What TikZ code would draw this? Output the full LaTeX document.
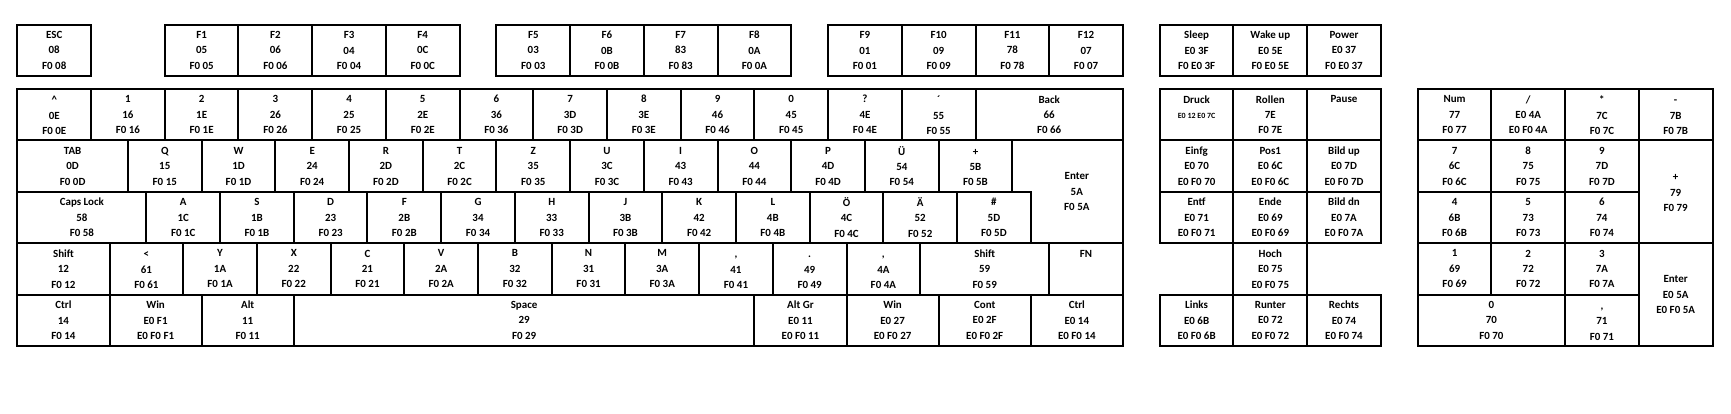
\documentclass[tikz,border=0pt]{standalone}
\usepackage{fontspec}
\setmainfont{Carlito}
\usepackage{tikz}
\tikzset{key/.style={draw,line width=1pt,minimum width=1.3cm,minimum height=0.90665cm,inner sep=0pt,align=center,font=\bfseries\fontsize{5.5}{7.75}\selectfont}}
\tikzset{keytext/.style={inner sep=0pt,align=center,font=\bfseries\fontsize{5.5}{7.75}\selectfont}}
\newcommand{\tall}{\vphantom{Äg}}

\begin{document}
\begin{tikzpicture}[x=1.3cm,y=-0.90665cm]
      \useasboundingbox (-0.236,-1.7315) rectangle (23.251,6.323);
      % function keys
      \node [key] (esc) at (0.5,-0.75) {ESC\\08\\F0 08};
      \node [key] (f1) at (2.5,-0.75) {F1\\05\\F0 05};
      \node [key] (f2) at (3.5,-0.75) {F2\\06\\F0 06};
      \node [key] (f3) at (4.5,-0.75) {F3\\04\\F0 04};
      \node [key] (f4) at (5.5,-0.75) {F4\\0C\\F0 0C};
      \node [key] (f5) at (7,-0.75) {F5\\03\\F0 03};
      \node [key] (f6) at (8,-0.75) {F6\\0B\\F0 0B};
      \node [key] (f7) at (9,-0.75) {F7\\83\\F0 83};
      \node [key] (f8) at (10,-0.75) {F8\\0A\\F0 0A};
      \node [key] (f9) at (11.5,-0.75) {F9\\01\\F0 01};
      \node [key] (f10) at (12.5,-0.75) {F10\\09\\F0 09};
      \node [key] (f11) at (13.5,-0.75) {F11\\78\\F0 78};
      \node [key] (f12) at (14.5,-0.75) {F12\\07\\F0 07};
      \node [key] (sleep) at (16,-0.75) {Sleep\\E0 3F\\F0 E0 3F};
      \node [key] (wake) at (17,-0.75) {Wake up\\E0 5E\\F0 E0 5E};
      \node [key] (power) at (18,-0.75) {Power\\E0 37\\F0 E0 37};
      % number row
      \node [key] (kcirc) at (0.5,0.5) {\tall\textasciicircum\\0E\\F0 0E};
      \node [key] (k1) at (1.5,0.5) {1\\16\\F0 16};
      \node [key] (k2) at (2.5,0.5) {2\\1E\\F0 1E};
      \node [key] (k3) at (3.5,0.5) {3\\26\\F0 26};
      \node [key] (k4) at (4.5,0.5) {4\\25\\F0 25};
      \node [key] (k5) at (5.5,0.5) {5\\2E\\F0 2E};
      \node [key] (k6) at (6.5,0.5) {6\\36\\F0 36};
      \node [key] (k7) at (7.5,0.5) {7\\3D\\F0 3D};
      \node [key] (k8) at (8.5,0.5) {8\\3E\\F0 3E};
      \node [key] (k9) at (9.5,0.5) {9\\46\\F0 46};
      \node [key] (k0) at (10.5,0.5) {0\\45\\F0 45};
      \node [key] (kquest) at (11.5,0.5) {?\\4E\\F0 4E};
      \node [key] (kacute) at (12.5,0.5) {\tall´\\55\\F0 55};
      \node [key,minimum width=2.6cm] (back) at (14,0.5) {Back\\66\\F0 66};
      \node [key] (druck) at (16,0.5) {Druck\\{\fontsize{4}{5}\selectfont E0 12 E0 7C}\\~};
      \node [key] (rollen) at (17,0.5) {Rollen\\7E\\F0 7E};
      \node [key] (pause) at (18,0.5) {Pause\\~\\~};
      \node [key] (num) at (19.5,0.5) {Num\\77\\F0 77};
      \node [key] (nslash) at (20.5,0.5) {/\\E0 4A\\E0 F0 4A};
      \node [key] (nstar) at (21.5,0.5) {\tall*\\7C\\F0 7C};
      \node [key] (nminus) at (22.5,0.5) {\tall-\\7B\\F0 7B};
      % upper letter row
      \node [key,minimum width=1.95cm] (tab) at (0.75,1.5) {TAB\\0D\\F0 0D};
      \node [key] (kq) at (2,1.5) {Q\\15\\F0 15};
      \node [key] (kw) at (3,1.5) {W\\1D\\F0 1D};
      \node [key] (ke) at (4,1.5) {E\\24\\F0 24};
      \node [key] (kr) at (5,1.5) {R\\2D\\F0 2D};
      \node [key] (kt) at (6,1.5) {T\\2C\\F0 2C};
      \node [key] (kz) at (7,1.5) {Z\\35\\F0 35};
      \node [key] (ku) at (8,1.5) {U\\3C\\F0 3C};
      \node [key] (ki) at (9,1.5) {I\\43\\F0 43};
      \node [key] (ko) at (10,1.5) {O\\44\\F0 44};
      \node [key] (kp) at (11,1.5) {P\\4D\\F0 4D};
      \node [key] (kue) at (12,1.5) {Ü\\54\\F0 54};
      \node [key] (kplus) at (13,1.5) {\tall+\\5B\\F0 5B};
      \draw [line width=1pt] (13.5,1) -- (15,1) -- (15,3) -- (13.75,3) -- (13.75,2) -- (13.5,2) -- cycle;
      \node [keytext] (enter) at (14.375,2) {Enter\\5A\\F0 5A};
      \node [key] (einfg) at (16,1.5) {Einfg\\E0 70\\E0 F0 70};
      \node [key] (pos1) at (17,1.5) {Pos1\\E0 6C\\E0 F0 6C};
      \node [key] (bildup) at (18,1.5) {Bild up\\E0 7D\\E0 F0 7D};
      \node [key] (n7) at (19.5,1.5) {7\\6C\\F0 6C};
      \node [key] (n8) at (20.5,1.5) {8\\75\\F0 75};
      \node [key] (n9) at (21.5,1.5) {9\\7D\\F0 7D};
      \node [key,minimum height=1.8133cm] (nplus) at (22.5,2) {\tall+\\79\\F0 79};
      % middle letter row
      \node [key,minimum width=2.275cm] (caps) at (0.875,2.5) {Caps Lock\\58\\F0 58};
      \node [key] (ka) at (2.25,2.5) {A\\1C\\F0 1C};
      \node [key] (ks) at (3.25,2.5) {S\\1B\\F0 1B};
      \node [key] (kd) at (4.25,2.5) {D\\23\\F0 23};
      \node [key] (kf) at (5.25,2.5) {F\\2B\\F0 2B};
      \node [key] (kg) at (6.25,2.5) {G\\34\\F0 34};
      \node [key] (kh) at (7.25,2.5) {H\\33\\F0 33};
      \node [key] (kj) at (8.25,2.5) {J\\3B\\F0 3B};
      \node [key] (kk) at (9.25,2.5) {K\\42\\F0 42};
      \node [key] (kl) at (10.25,2.5) {L\\4B\\F0 4B};
      \node [key] (koe) at (11.25,2.5) {Ö\\4C\\F0 4C};
      \node [key] (kae) at (12.25,2.5) {Ä\\52\\F0 52};
      \node [key] (khash) at (13.25,2.5) {\#\\5D\\F0 5D};
      \node [key] (entf) at (16,2.5) {Entf\\E0 71\\E0 F0 71};
      \node [key] (ende) at (17,2.5) {Ende\\E0 69\\E0 F0 69};
      \node [key] (bilddn) at (18,2.5) {Bild dn\\E0 7A\\E0 F0 7A};
      \node [key] (n4) at (19.5,2.5) {4\\6B\\F0 6B};
      \node [key] (n5) at (20.5,2.5) {5\\73\\F0 73};
      \node [key] (n6) at (21.5,2.5) {6\\74\\F0 74};
      % lower letter row
      \node [key,minimum width=1.625cm] (lshift) at (0.625,3.5) {Shift\\12\\F0 12};
      \node [key] (kless) at (1.75,3.5) {\tall<\\61\\F0 61};
      \node [key] (ky) at (2.75,3.5) {Y\\1A\\F0 1A};
      \node [key] (kx) at (3.75,3.5) {X\\22\\F0 22};
      \node [key] (kc) at (4.75,3.5) {C\\21\\F0 21};
      \node [key] (kv) at (5.75,3.5) {V\\2A\\F0 2A};
      \node [key] (kb) at (6.75,3.5) {B\\32\\F0 32};
      \node [key] (kn) at (7.75,3.5) {N\\31\\F0 31};
      \node [key] (km) at (8.75,3.5) {M\\3A\\F0 3A};
      \node [key] (kcomma) at (9.75,3.5) {\tall,\\41\\F0 41};
      \node [key] (kdot) at (10.75,3.5) {\tall.\\49\\F0 49};
      \node [key] (kdash) at (11.75,3.5) {\tall,\\4A\\F0 4A};
      \node [key,minimum width=2.275cm] (rshift) at (13.125,3.5) {Shift\\59\\F0 59};
      \node [key] (fn) at (14.5,3.5) {FN\\~\\~};
      \node [key] (hoch) at (17,3.5) {Hoch\\E0 75\\E0 F0 75};
      \node [key] (n1) at (19.5,3.5) {1\\69\\F0 69};
      \node [key] (n2) at (20.5,3.5) {2\\72\\F0 72};
      \node [key] (n3) at (21.5,3.5) {3\\7A\\F0 7A};
      \node [key,minimum height=1.8133cm] (nenter) at (22.5,4) {Enter\\E0 5A\\E0 F0 5A};
      % bottom row
      \node [key,minimum width=1.625cm] (lctrl) at (0.625,4.5) {Ctrl\\14\\F0 14};
      \node [key,minimum width=1.625cm] (lwin) at (1.875,4.5) {Win\\E0 F1\\E0 F0 F1};
      \node [key,minimum width=1.625cm] (alt) at (3.125,4.5) {Alt\\11\\F0 11};
      \node [key,minimum width=8.125cm] (space) at (6.875,4.5) {Space\\29\\F0 29};
      \node [key,minimum width=1.625cm] (altgr) at (10.625,4.5) {Alt Gr\\E0 11\\E0 F0 11};
      \node [key,minimum width=1.625cm] (rwin) at (11.875,4.5) {Win\\E0 27\\E0 F0 27};
      \node [key,minimum width=1.625cm] (cont) at (13.125,4.5) {Cont\\E0 2F\\E0 F0 2F};
      \node [key,minimum width=1.625cm] (rctrl) at (14.375,4.5) {Ctrl\\E0 14\\E0 F0 14};
      \node [key] (links) at (16,4.5) {Links\\E0 6B\\E0 F0 6B};
      \node [key] (runter) at (17,4.5) {Runter\\E0 72\\E0 F0 72};
      \node [key] (rechts) at (18,4.5) {Rechts\\E0 74\\E0 F0 74};
      \node [key,minimum width=2.6cm] (n0) at (20,4.5) {0\\70\\F0 70};
      \node [key] (ncomma) at (21.5,4.5) {\tall,\\71\\F0 71};
    \end{tikzpicture}
\end{document}
